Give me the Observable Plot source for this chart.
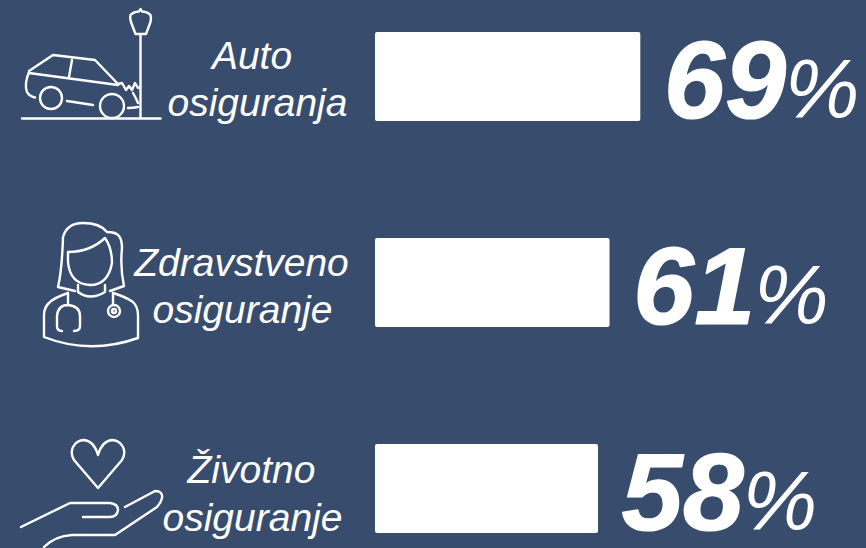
<!DOCTYPE html>
<html><head><meta charset="utf-8">
<script src="https://cdn.jsdelivr.net/npm/d3@7"></script>
<script src="https://cdn.jsdelivr.net/npm/@observablehq/plot@0.6"></script>
<style>html,body{margin:0;padding:0;background:#384d6e;overflow:hidden}svg{display:block}</style>
</head><body>
<script>
const categories = ["Auto osiguranja", "Zdravstveno osiguranje", "Životno osiguranje"];
const values = [69, 61, 58];
const firstLines = ["Auto", "Zdravstveno", "Životno"];
const secondLines = ["osiguranja", "osiguranje", "osiguranje"];
const rows = categories.map((c, i) => ({c, v: values[i], pct: values[i] + ""}));

const circle = (x, y, r) => `M${x - r} ${y}a${r} ${r} 0 1 0 ${2 * r} 0a${r} ${r} 0 1 0 ${-2 * r} 0`;
const icons = [
  "M22 118.5H160.5M140.5 117.5V35",
  "M140.5 9 L139 11.5 Q133 12 130.5 15 Q129.5 18 131 22 L135.5 34 H146 L150.5 22 Q151.5 18 150.5 15 Q148 12 142 11.5 Z",
  "M29 71 L53 55 L95 60 L118 84 M29 73 L118 85 M72 60 L69 77 M29 72 Q24 84 27 92 Q29 96 35 97.5 M67 101 L93 105",
  "M118 84 L122 83 L126 90 L129 86 L132 90 L135 83 L138 88 L140 87 M133 93 Q136 98 138 103 M128 108 Q133 108 138 107",
  circle(51, 98, 11), circle(112, 106, 12),
  "M75 291 L58 287 Q62 270 63 237 Q67 223 83 223 Q100 223 107 232 Q116 232 119 236 Q122 240 122 248 Q120 268 124 286 L110 291",
  "M68 252 Q90 252 105 238 Q112 248 112 263 Q108 285 90 285 Q70 284 68 262 Z",
  "M78 285 V292 Q90 301 105 292 V285",
  "M68 293 Q54 298 50 302 Q44 307 44 315 V337 Q90 355 138 338 V315 Q138 307 133 302 Q126 297 113 293",
  "M68 293 V305 M62 331 Q57 331 57 326 V316 Q58 305 68 305 Q80 306 80 316 V326 Q80 331 74 331 M113 293 V305",
  circle(114, 311, 6), circle(114, 311, 2),
  "M98 488 L74 460 Q70 453 73 447 Q77 440 84 440 Q94 441 98 455 Q102 441 112 440 Q119 440 123 447 Q126 453 122 460 Z",
  "M21 527 L70 503 H110 Q118 504 118 510 Q117 517 110 517 H83",
  "M125 507 L155 491 Q163 491 162 498 Q161 503 157 507 L115 535 H72 Q55 536 44 547"
];
const iconMark = () => {
  const g = d3.create("svg:g").attr("fill", "none").attr("stroke", "#fff").attr("stroke-width", 2.4).attr("stroke-linejoin", "round").attr("stroke-linecap", "round");
  icons.forEach(d => g.append("path").attr("d", d));
  return g.node();
};

const font = "Liberation Sans";
const labelStyle = {fill: "#fff", fontSize: 39, fontStyle: "italic", fontFamily: font, textAnchor: "middle", lineAnchor: "bottom"};
const label = (text, cat, dx, dy) => Plot.text([text], {x: [0], y: [cat], text: d => d, dx, dy, ...labelStyle});
const chart = Plot.plot({
  width: 866, height: 548,
  margin: 0,
  style: {background: "#384d6e", fontFamily: font},
  x: {domain: [0, 100], range: [375, 759.5], axis: null},
  y: {type: "band", domain: categories, range: [32, 533], paddingInner: 0.568, paddingOuter: 0, round: false, axis: null},
  marks: [
    iconMark,
    Plot.barX(rows, {x: "v", y: "c", fill: "#fff", rx: 2}),
    label(firstLines[0], categories[0], -123.5, -7.5),
    label(secondLines[0], categories[0], -118, 39.5),
    label(firstLines[1], categories[1], -134, -7.5),
    label(secondLines[1], categories[1], -133, 39.5),
    label(firstLines[2], categories[2], -124, -6.5),
    label(secondLines[2], categories[2], -123, 41.5),
    Plot.text(rows, {x: "v", y: "c", text: "pct", dx: 23, dy: 41, fill: "#fff", stroke: "#fff", strokeWidth: 1.2, fontSize: 110, fontWeight: "bold", fontStyle: "italic", fontFamily: font, textAnchor: "start", lineAnchor: "bottom"}),
    Plot.text(rows, {x: "v", y: "c", text: () => "%", dx: 144, dy: 41, fill: "#fff", fontSize: 84, fontStyle: "italic", fontFamily: font, textAnchor: "start", lineAnchor: "bottom"})
  ]
});
document.body.append(chart);
</script>
</body></html>
